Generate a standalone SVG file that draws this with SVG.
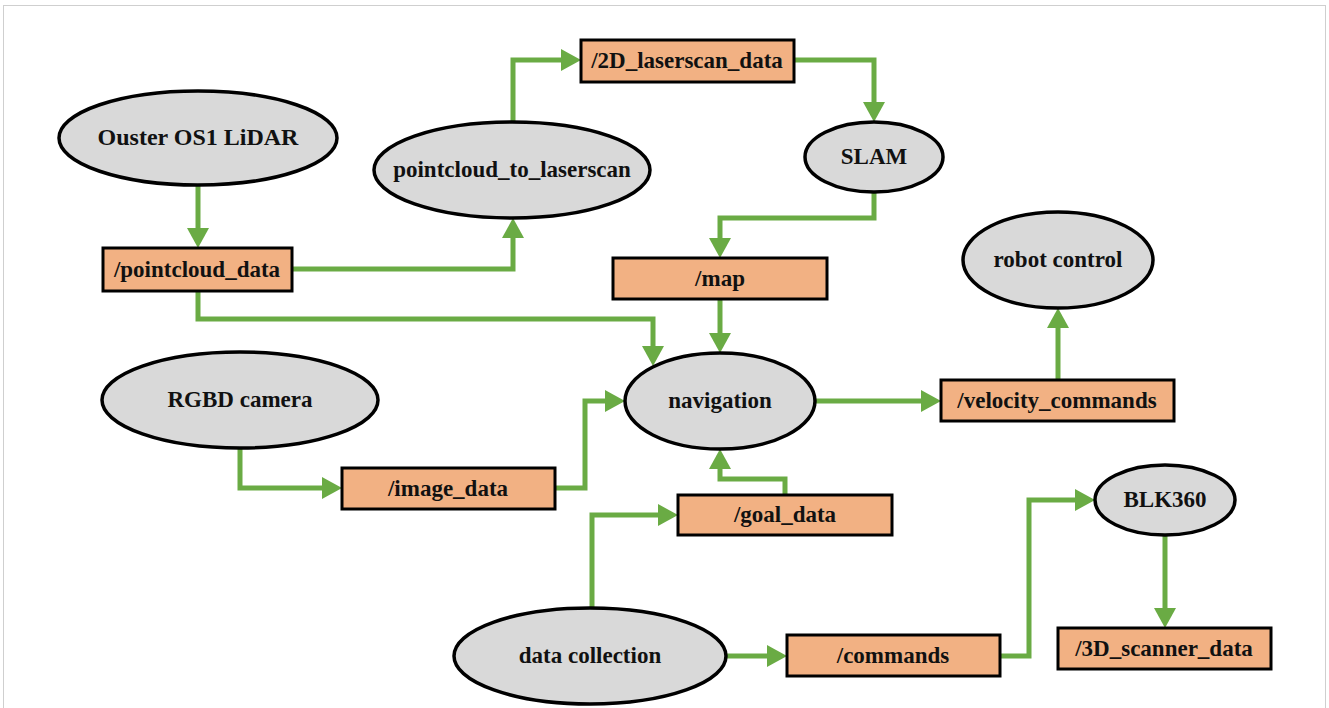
<svg xmlns="http://www.w3.org/2000/svg" width="1329" height="708" viewBox="0 0 1329 708" font-family="Liberation Serif, Times New Roman, DejaVu Serif, serif">
<style>
.n ellipse{fill:#d9d9d9;stroke:#000;stroke-width:3.5}
.n rect{fill:#f2b183;stroke:#000;stroke-width:3}
.n text{font-weight:bold;font-size:23px;fill:#111;text-anchor:middle}
#edges path{fill:none;stroke:#6aab44;stroke-width:5;stroke-linejoin:miter;marker-end:url(#ah)}
</style>
<defs>
<marker id="ah" markerUnits="userSpaceOnUse" markerWidth="20" markerHeight="22" refX="12" refY="11" orient="auto">
<path d="M0,0 L20,11 L0,22 Z" fill="#6aab44"/>
</marker>
</defs>
<rect x="0" y="0" width="1329" height="708" fill="#fff"/>
<rect x="3.5" y="5.5" width="1322" height="712" fill="none" stroke="#cfcfcf" stroke-width="1"/>
<g id="edges">
<path d="M198,186 V240"/>
<path d="M292,269 H513 V226"/>
<path d="M513,122 V60 H573"/>
<path d="M794,60 H874 V114"/>
<path d="M874,192 V218 H720 V250"/>
<path d="M720,299 V345"/>
<path d="M198,291 V319 H653 V358"/>
<path d="M555,488 H585 V401 H617"/>
<path d="M240,448 V488 H334"/>
<path d="M815,401 H933"/>
<path d="M1058,380 V316"/>
<path d="M785,495 V479 H720 V457"/>
<path d="M592,608 V515 H670"/>
<path d="M726,656 H779"/>
<path d="M1000,656 H1029 V500 H1087"/>
<path d="M1165,535 V620"/>
</g>
<g id="ouster" class="n"><ellipse cx="198" cy="138" rx="139" ry="47"/><text x="198" y="145" font-family="Liberation Serif, serif" style="font-size:24px">Ouster OS1 LiDAR</text></g>
<g id="p2l" class="n"><ellipse cx="512" cy="170" rx="138" ry="48"/><text x="512" y="177">pointcloud_to_laserscan</text></g>
<g id="slam" class="n"><ellipse cx="874" cy="157" rx="69" ry="35"/><text x="874" y="164">SLAM</text></g>
<g id="robot" class="n"><ellipse cx="1058" cy="260" rx="95" ry="48"/><text x="1058" y="267">robot control</text></g>
<g id="rgbd" class="n"><ellipse cx="240" cy="400" rx="138" ry="48"/><text x="240" y="407">RGBD camera</text></g>
<g id="nav" class="n"><ellipse cx="720" cy="401" rx="95" ry="48"/><text x="720" y="408">navigation</text></g>
<g id="blk" class="n"><ellipse cx="1165" cy="500" rx="70" ry="35"/><text x="1165" y="507">BLK360</text></g>
<g id="datacol" class="n"><ellipse cx="590" cy="656" rx="136" ry="48"/><text x="590" y="663">data collection</text></g>
<g id="pointcloud_data" class="n"><rect x="103" y="248" width="189" height="43"/><text x="197" y="277">/pointcloud_data</text></g>
<g id="laserscan_data" class="n"><rect x="581" y="40" width="213" height="42"/><text x="687" y="68">/2D_laserscan_data</text></g>
<g id="map" class="n"><rect x="613" y="258" width="214" height="41"/><text x="720" y="286">/map</text></g>
<g id="velocity_commands" class="n"><rect x="941" y="380" width="233" height="41"/><text x="1057" y="408">/velocity_commands</text></g>
<g id="image_data" class="n"><rect x="342" y="468" width="213" height="41"/><text x="448" y="496">/image_data</text></g>
<g id="goal_data" class="n"><rect x="678" y="495" width="214" height="40"/><text x="785" y="522">/goal_data</text></g>
<g id="commands" class="n"><rect x="787" y="635" width="213" height="41"/><text x="893" y="663">/commands</text></g>
<g id="scanner_data" class="n"><rect x="1058" y="628" width="213" height="41"/><text x="1164" y="656">/3D_scanner_data</text></g>
</svg>
